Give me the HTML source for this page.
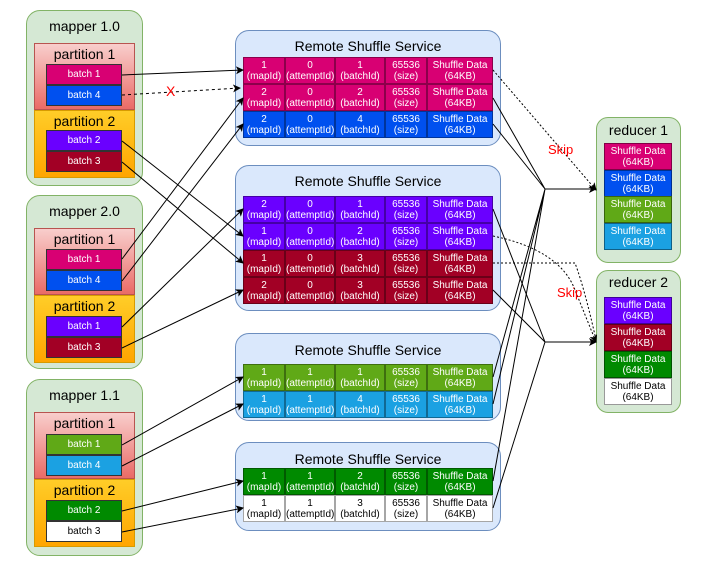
<!DOCTYPE html>
<html><head><meta charset="utf-8"><style>
body{margin:0;width:708px;height:566px;background:#fff;position:relative;font-family:"Liberation Sans",Arial,sans-serif;overflow:hidden}
div{position:absolute;box-sizing:border-box}
.m{left:26px;width:117px;background:#d5e8d4;border:1px solid #82b366;border-radius:14px}
.t{width:100%;text-align:center;font-size:14px;color:#000}
.p1{left:34px;width:101px;height:67px;background:linear-gradient(#f8cecc,#ea6b66);border:1px solid #b85450}
.p2{left:34px;width:101px;height:68px;background:linear-gradient(#ffcd28,#ffa500);border:1px solid #d79b00}
.pt{left:34px;width:101px;text-align:center;font-size:14px}
.b{left:46px;width:76px;height:21px;border:1px solid #333;color:#fff;font-size:10px;text-align:center;line-height:20px}
.r{left:235px;width:266px;background:#dae8fc;border:1px solid #6c8ebf;border-radius:14px}
.row{left:243px;width:250px;height:27px;display:flex}
.row span{display:block;border:1px solid rgba(0,0,0,.35);color:#fff;font-size:10px;text-align:center;line-height:11px;padding-top:2px;box-sizing:border-box;height:27px}
.row span:nth-child(1){width:42px}.row span:nth-child(2){width:50px}.row span:nth-child(3){width:50px}.row span:nth-child(4){width:42px}.row span:nth-child(5){width:66px}
.red{left:596px;width:85px;background:#d5e8d4;border:1px solid #82b366;border-radius:12px}
.c{left:604px;width:68px;height:27px;border:1px solid rgba(0,0,0,.4);color:#fff;font-size:10px;text-align:center;line-height:11px;padding-top:2px}
.A{background:#d80073}.B{background:#0050ef}.P{background:#6a00ff}.D{background:#a20025}.G{background:#60a917}.L{background:#1ba1e2}.K{background:#008a00}.W{background:#fff;color:#000!important}
.row span.W{color:#000}
</style></head><body>
<!-- mappers -->
<div class="m" style="top:10px;height:176px"></div><div class="t" style="left:26px;width:117px;top:18px">mapper 1.0</div>
<div class="p1" style="top:43px"></div><div class="pt" style="top:46px">partition 1</div>
<div class="b A" style="top:64px">batch 1</div><div class="b B" style="top:85px">batch 4</div>
<div class="p2" style="top:110px"></div><div class="pt" style="top:113px">partition 2</div>
<div class="b P" style="top:130px">batch 2</div><div class="b D" style="top:151px">batch 3</div>

<div class="m" style="top:195px;height:174px"></div><div class="t" style="left:26px;width:117px;top:203px">mapper 2.0</div>
<div class="p1" style="top:228px"></div><div class="pt" style="top:231px">partition 1</div>
<div class="b A" style="top:249px">batch 1</div><div class="b B" style="top:270px">batch 4</div>
<div class="p2" style="top:295px"></div><div class="pt" style="top:298px">partition 2</div>
<div class="b P" style="top:316px">batch 1</div><div class="b D" style="top:337px">batch 3</div>

<div class="m" style="top:379px;height:177px"></div><div class="t" style="left:26px;width:117px;top:387px">mapper 1.1</div>
<div class="p1" style="top:412px"></div><div class="pt" style="top:415px">partition 1</div>
<div class="b G" style="top:434px">batch 1</div><div class="b L" style="top:455px">batch 4</div>
<div class="p2" style="top:479px"></div><div class="pt" style="top:482px">partition 2</div>
<div class="b K" style="top:500px">batch 2</div><div class="b W" style="top:521px;color:#000">batch 3</div>

<!-- RSS 1 -->
<div class="r" style="top:30px;height:116px"></div><div class="t" style="left:235px;width:266px;top:38px">Remote Shuffle Service</div>
<div class="row" style="top:57px"><span class="A">1<br>(mapId)</span><span class="A">0<br>(attemptId)</span><span class="A">1<br>(batchId)</span><span class="A">65536<br>(size)</span><span class="A">Shuffle Data<br>(64KB)</span></div>
<div class="row" style="top:84px"><span class="A">2<br>(mapId)</span><span class="A">0<br>(attemptId)</span><span class="A">2<br>(batchId)</span><span class="A">65536<br>(size)</span><span class="A">Shuffle Data<br>(64KB)</span></div>
<div class="row" style="top:111px"><span class="B">2<br>(mapId)</span><span class="B">0<br>(attemptId)</span><span class="B">4<br>(batchId)</span><span class="B">65536<br>(size)</span><span class="B">Shuffle Data<br>(64KB)</span></div>
<!-- RSS 2 -->
<div class="r" style="top:165px;height:146px"></div><div class="t" style="left:235px;width:266px;top:173px">Remote Shuffle Service</div>
<div class="row" style="top:196px"><span class="P">2<br>(mapId)</span><span class="P">0<br>(attemptId)</span><span class="P">1<br>(batchId)</span><span class="P">65536<br>(size)</span><span class="P">Shuffle Data<br>(64KB)</span></div>
<div class="row" style="top:223px"><span class="P">1<br>(mapId)</span><span class="P">0<br>(attemptId)</span><span class="P">2<br>(batchId)</span><span class="P">65536<br>(size)</span><span class="P">Shuffle Data<br>(64KB)</span></div>
<div class="row" style="top:250px"><span class="D">1<br>(mapId)</span><span class="D">0<br>(attemptId)</span><span class="D">3<br>(batchId)</span><span class="D">65536<br>(size)</span><span class="D">Shuffle Data<br>(64KB)</span></div>
<div class="row" style="top:277px"><span class="D">2<br>(mapId)</span><span class="D">0<br>(attemptId)</span><span class="D">3<br>(batchId)</span><span class="D">65536<br>(size)</span><span class="D">Shuffle Data<br>(64KB)</span></div>
<!-- RSS 3 -->
<div class="r" style="top:333px;height:88px"></div><div class="t" style="left:235px;width:266px;top:342px">Remote Shuffle Service</div>
<div class="row" style="top:364px"><span class="G">1<br>(mapId)</span><span class="G">1<br>(attemptId)</span><span class="G">1<br>(batchId)</span><span class="G">65536<br>(size)</span><span class="G">Shuffle Data<br>(64KB)</span></div>
<div class="row" style="top:391px"><span class="L">1<br>(mapId)</span><span class="L">1<br>(attemptId)</span><span class="L">4<br>(batchId)</span><span class="L">65536<br>(size)</span><span class="L">Shuffle Data<br>(64KB)</span></div>
<!-- RSS 4 -->
<div class="r" style="top:442px;height:89px"></div><div class="t" style="left:235px;width:266px;top:451px">Remote Shuffle Service</div>
<div class="row" style="top:468px"><span class="K">1<br>(mapId)</span><span class="K">1<br>(attemptId)</span><span class="K">2<br>(batchId)</span><span class="K">65536<br>(size)</span><span class="K">Shuffle Data<br>(64KB)</span></div>
<div class="row" style="top:495px"><span class="W">1<br>(mapId)</span><span class="W">1<br>(attemptId)</span><span class="W">3<br>(batchId)</span><span class="W">65536<br>(size)</span><span class="W">Shuffle Data<br>(64KB)</span></div>

<!-- reducers -->
<div class="red" style="top:117px;height:146px"></div><div class="t" style="left:596px;width:85px;top:122px">reducer 1</div>
<div class="c A" style="top:143px">Shuffle Data<br>(64KB)</div>
<div class="c B" style="top:170px">Shuffle Data<br>(64KB)</div>
<div class="c G" style="top:196px">Shuffle Data<br>(64KB)</div>
<div class="c L" style="top:223px">Shuffle Data<br>(64KB)</div>
<div class="red" style="top:270px;height:143px"></div><div class="t" style="left:596px;width:85px;top:274px">reducer 2</div>
<div class="c P" style="top:297px">Shuffle Data<br>(64KB)</div>
<div class="c D" style="top:324px">Shuffle Data<br>(64KB)</div>
<div class="c K" style="top:351px">Shuffle Data<br>(64KB)</div>
<div class="c W" style="top:378px;color:#000">Shuffle Data<br>(64KB)</div>

<svg width="708" height="566" style="position:absolute;left:0;top:0" fill="none" stroke="#000" stroke-width="1">
<defs><marker id="a" markerWidth="8" markerHeight="8" refX="7" refY="4" orient="auto" markerUnits="userSpaceOnUse"><path d="M0,0L8,4L0,8L2,4z" fill="#000" stroke="none"/></marker></defs>
<g marker-end="url(#a)">
<path d="M122,75L243,70"/>
<path d="M122,95L240,88" stroke-dasharray="3,3"/>
<path d="M122,141L243,236"/>
<path d="M122,162L243,263"/>
<path d="M122,259L243,98"/>
<path d="M122,281L243,124"/>
<path d="M122,327L243,209"/>
<path d="M122,348L243,290"/>
<path d="M122,445L243,377"/>
<path d="M122,466L243,404"/>
<path d="M122,511L243,481"/>
<path d="M122,532L243,508"/>
<path d="M545,189L596,189"/>
<path d="M545,342L596,342"/>
<path d="M493,70L596,190" stroke-dasharray="2,2"/>
<path d="M493,236Q560,250 575,290L596,342" stroke-dasharray="2,2"/>
</g>
<path d="M493,263L575,263Q585,290 596,340" stroke-dasharray="2,2"/>
<path d="M493,98L545,189M493,124L545,189M493,377L545,189M493,404L545,189M493,481L545,189"/>
<path d="M493,209L545,342M493,290L545,342M493,508L545,342"/>
</svg>
<div style="left:166px;top:83px;color:#f00;font-size:14px">X</div>
<div style="left:548px;top:142px;color:#f00;font-size:13px">Skip</div>
<div style="left:557px;top:285px;color:#f00;font-size:13px">Skip</div>
</body></html>
